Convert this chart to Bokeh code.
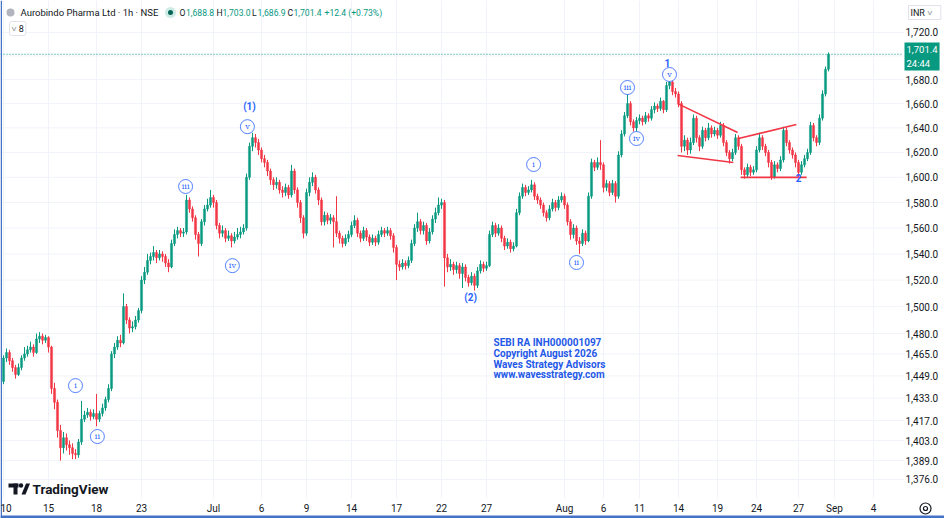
import math
from bokeh.plotting import figure
from bokeh.models import Range1d, FixedTicker, NumeralTickFormatter, Label, ColumnDataSource
from bokeh.core.properties import value
from bokeh.embed import file_html
from bokeh.resources import INLINE

# ---------------- data (1h candles, Aurobindo Pharma, NSE) ----------------
opens = [1445,1462,1466,1460,1455,1450,1455,1462,1465,1468,
         1470,1466,1476,1478,1475,1477,1470,1440,1430,1410,
         1398,1405,1400,1398,1394,1393,1402,1418,1421,1423,
         1420,1422,1418,1422,1426,1432,1440,1465,1470,1475,
         1473,1500,1490,1484,1485,1490,1497,1520,1526,1535,
         1538,1541,1537,1540,1538,1533,1530,1548,1555,1558,
         1556,1557,1582,1575,1568,1555,1548,1565,1575,1578,
         1584,1580,1562,1556,1558,1552,1554,1550,1553,1555,
         1557,1560,1600,1625,1632,1628,1622,1615,1612,1605,
         1598,1594,1596,1590,1588,1592,1586,1605,1590,1580,
         1568,1556,1588,1596,1600,1590,1582,1565,1570,1566,
         1568,1565,1556,1552,1548,1552,1555,1562,1566,1556,
         1552,1558,1553,1549,1552,1549,1555,1558,1556,1558,
         1554,1545,1532,1530,1533,1531,1535,1548,1560,1565,
         1558,1562,1550,1557,1567,1572,1578,1580,1537,1530,
         1532,1528,1531,1525,1530,1522,1518,1523,1516,1527,
         1532,1529,1531,1555,1562,1556,1560,1552,1546,1549,
         1544,1546,1572,1585,1592,1588,1590,1594,1585,1582,
         1578,1572,1568,1575,1580,1576,1582,1585,1578,1565,
         1555,1560,1550,1548,1556,1550,1585,1612,1608,1612,
         1610,1592,1595,1588,1595,1585,1618,1635,1650,1660,
         1645,1640,1646,1648,1645,1650,1648,1655,1658,1656,
         1662,1655,1675,1678,1670,1668,1660,1625,1630,1622,
         1628,1648,1632,1625,1638,1632,1640,1635,1638,1634,
         1642,1628,1620,1615,1620,1632,1625,1606,1602,1608,
         1604,1606,1622,1632,1625,1620,1612,1600,1610,1607,
         1614,1638,1628,1622,1618,1612,1604,1610,1615,1620,
         1642,1632,1628,1648,1668,1688.8]

closes = [1462,1466,1460,1455,1450,1455,1462,1465,1468,1470,
          1466,1476,1478,1475,1477,1470,1440,1430,1410,1398,
          1405,1400,1398,1394,1393,1402,1418,1421,1423,1420,
          1422,1418,1422,1426,1432,1440,1465,1470,1475,1473,
          1500,1490,1484,1485,1490,1497,1520,1526,1535,1538,
          1541,1537,1540,1538,1533,1530,1548,1555,1558,1556,
          1557,1582,1575,1568,1555,1548,1565,1575,1578,1584,
          1580,1562,1556,1558,1552,1554,1550,1553,1555,1557,
          1560,1600,1625,1632,1628,1622,1615,1612,1605,1598,
          1594,1596,1590,1588,1592,1586,1605,1590,1580,1568,
          1556,1588,1596,1600,1590,1582,1565,1570,1566,1568,
          1565,1556,1552,1548,1552,1555,1562,1566,1556,1552,
          1558,1553,1549,1552,1549,1555,1558,1556,1558,1554,
          1545,1532,1530,1533,1531,1535,1548,1560,1565,1558,
          1562,1550,1557,1567,1572,1578,1580,1537,1530,1532,
          1528,1531,1525,1530,1522,1518,1523,1516,1527,1532,
          1529,1531,1555,1562,1556,1560,1552,1546,1549,1544,
          1546,1572,1585,1592,1588,1590,1594,1585,1582,1578,
          1572,1568,1575,1580,1576,1582,1585,1578,1565,1555,
          1560,1550,1548,1556,1550,1585,1612,1608,1612,1610,
          1592,1595,1588,1595,1585,1618,1635,1650,1660,1645,
          1640,1646,1648,1645,1650,1648,1655,1658,1656,1662,
          1655,1675,1678,1670,1668,1660,1625,1630,1622,1628,
          1648,1632,1625,1638,1632,1640,1635,1638,1634,1642,
          1628,1620,1615,1620,1632,1625,1606,1602,1608,1604,
          1606,1622,1632,1625,1620,1612,1600,1610,1607,1614,
          1638,1628,1622,1618,1612,1604,1610,1615,1620,1642,
          1632,1628,1648,1668,1688.8,1701.4]

highs = [1464,1469,1468,1462,1457,1458,1464,1470,1471,1474,
         1472,1480,1481,1480,1479,1478,1471,1444,1432,1414,
         1409,1408,1403,1401,1397,1404,1431,1424,1426,1425,
         1425,1436,1424,1429,1434,1443,1467,1473,1478,1479,
         1510,1502,1492,1489,1493,1499,1523,1530,1540,1541,
         1546,1543,1543,1542,1540,1536,1551,1559,1561,1560,
         1560,1586,1584,1577,1570,1557,1567,1578,1583,1590,
         1586,1582,1564,1562,1560,1558,1556,1557,1560,1561,
         1563,1603,1628,1636,1635,1631,1624,1618,1614,1607,
         1600,1600,1598,1593,1595,1594,1610,1607,1592,1582,
         1570,1591,1600,1604,1602,1592,1584,1573,1572,1571,
         1570,1585,1558,1554,1555,1558,1565,1570,1568,1558,
         1561,1560,1555,1555,1554,1558,1561,1560,1561,1560,
         1556,1547,1535,1536,1535,1538,1551,1563,1572,1567,
         1565,1564,1560,1570,1576,1584,1583,1582,1540,1536,
         1534,1534,1533,1533,1532,1524,1526,1525,1530,1535,
         1534,1534,1558,1565,1564,1563,1562,1554,1552,1551,
         1549,1575,1588,1595,1594,1593,1598,1596,1587,1584,
         1580,1574,1578,1583,1582,1585,1588,1587,1580,1567,
         1563,1562,1553,1559,1558,1588,1615,1614,1616,1630,
         1612,1598,1597,1598,1597,1621,1638,1653,1670,1662,
         1647,1649,1651,1650,1653,1652,1658,1661,1660,1665,
         1663,1678,1683,1680,1673,1670,1662,1634,1632,1632,
         1651,1650,1634,1641,1640,1644,1642,1641,1640,1645,
         1644,1630,1622,1623,1635,1634,1627,1608,1611,1610,
         1609,1625,1636,1634,1627,1622,1614,1613,1612,1617,
         1641,1640,1630,1624,1620,1614,1613,1618,1623,1645,
         1644,1634,1651,1671,1691,1703]

lows = [1443,1459,1457,1452,1447,1449,1453,1460,1463,1466,
        1463,1465,1473,1472,1473,1466,1436,1425,1405,1389,
        1394,1396,1393,1390,1390,1391,1400,1416,1419,1417,
        1418,1413,1416,1420,1424,1430,1438,1462,1468,1470,
        1472,1487,1480,1481,1483,1488,1495,1517,1524,1532,
        1535,1533,1535,1534,1530,1526,1529,1546,1552,1553,
        1553,1555,1572,1565,1551,1538,1546,1562,1573,1576,
        1576,1559,1552,1553,1549,1550,1545,1548,1551,1552,
        1555,1558,1598,1621,1624,1618,1612,1608,1601,1594,
        1590,1591,1587,1584,1585,1583,1584,1587,1576,1564,
        1552,1554,1585,1593,1587,1578,1562,1562,1563,1563,
        1545,1553,1548,1545,1546,1549,1553,1560,1553,1549,
        1550,1550,1546,1547,1546,1547,1553,1553,1554,1551,
        1541,1520,1527,1528,1528,1529,1533,1546,1557,1555,
        1555,1547,1548,1555,1564,1570,1575,1515,1526,1527,
        1524,1525,1521,1514,1519,1515,1516,1512,1514,1525,
        1526,1527,1530,1553,1553,1554,1549,1543,1544,1541,
        1542,1545,1570,1583,1585,1586,1588,1582,1579,1575,
        1569,1565,1566,1573,1573,1574,1580,1575,1562,1551,
        1552,1547,1540,1546,1547,1549,1583,1605,1606,1606,
        1588,1589,1585,1586,1580,1583,1616,1633,1648,1642,
        1637,1636,1643,1642,1643,1645,1646,1652,1653,1654,
        1652,1653,1672,1667,1665,1657,1620,1621,1618,1619,
        1626,1628,1621,1623,1629,1630,1632,1633,1631,1632,
        1625,1617,1611,1613,1618,1622,1602,1599,1600,1601,
        1602,1604,1620,1622,1617,1608,1598,1599,1604,1605,
        1612,1625,1619,1615,1608,1600,1602,1608,1613,1618,
        1629,1625,1626,1646,1666,1686.9]

x_tick_pos = [0, 15, 31, 46, 70, 86, 101, 116, 131, 146, 161, 187, 200, 212, 225, 238, 251, 265, 277, 290]
x_tick_labels = ["10", "15", "18", "23", "Jul", "6", "9", "14", "17", "22", "27",
                 "Aug", "6", "11", "14", "19", "24", "27", "Sep", "4"]
y_ticks = [1376, 1389, 1403, 1417, 1433, 1449, 1465, 1480, 1500, 1520, 1540, 1560,
           1580, 1600, 1620, 1640, 1660, 1680, 1700, 1720]

wave_text = ["i", "ii", "iii", "iv", "v", "i", "ii", "iii", "iv", "v"]
wave_idx = [24, 31.3, 60.7, 76.3, 81.3, 176.7, 191, 208, 211, 222]
wave_price = [1442, 1405.8, 1592.7, 1531, 1641, 1610.3, 1533.4, 1673.4, 1631.3, 1684.3]

degree_text = ["(1)", "(2)", "1", "2"]
degree_idx = [82, 155.7, 221.3, 265]
degree_price = [1657.6, 1506.8, 1694.4, 1599.1]

# pattern lines: (x0, y0, x1, y1)
trend_x0 = [224.7, 224.7, 245.0, 245.7]
trend_y0 = [1660.0, 1617.5, 1631.3, 1600.0]
trend_x1 = [244.7, 243.3, 264.3, 267.7]
trend_y1 = [1636.3, 1611.9, 1642.8, 1600.0]

UP = "#089981"
DOWN = "#f23645"
TXT = "#131722"
BLUE = "#2962ff"
GRID = "#f0f3fa"
FONT = "Roboto"

W, H = 944, 518


def fx(px):
    # reference-pixel x -> bar index
    return (px - 3) / 3.0


def fy(py):
    # reference-pixel y -> price (log scale)
    return 1480 * math.exp((333 - py) / 2003.0)


n = len(closes)
idx = list(range(n))
last_price = closes[-1]
colors = [UP if c >= o else DOWN for o, c in zip(opens, closes)]
src = ColumnDataSource(dict(
    x=idx, h=highs, l=lows,
    top=[max(o, c) for o, c in zip(opens, closes)],
    bot=[min(o, c) for o, c in zip(opens, closes)],
    color=colors))

# the frame covers the whole canvas; price/time scales are drawn inside it
p = figure(width=W, height=H, y_axis_type="log", y_axis_location="right",
           x_range=Range1d(fx(0), fx(W)), y_range=Range1d(fy(H), fy(0)),
           output_backend="svg", toolbar_location=None,
           min_border_left=0, min_border_top=0, min_border_right=0, min_border_bottom=0)
p.background_fill_color = "white"
p.border_fill_color = "white"
p.outline_line_color = None
p.grid.visible = False

# axes (labels pulled inside the canvas)
p.yaxis.ticker = FixedTicker(ticks=y_ticks)
p.yaxis.formatter = NumeralTickFormatter(format="0,0.0")
p.yaxis.major_label_overrides = {1700: ""}
p.xaxis.ticker = FixedTicker(ticks=x_tick_pos)
p.xaxis.major_label_overrides = {t: s for t, s in zip(x_tick_pos, x_tick_labels)}
for ax in (p.xaxis, p.yaxis):
    ax.axis_line_color = None
    ax.major_tick_line_color = None
    ax.minor_tick_line_color = None
    ax.major_tick_out = 0
    ax.major_tick_in = 0
    ax.minor_tick_out = 0
    ax.major_label_text_font = FONT
    ax.major_label_text_font_size = "10px"
    ax.major_label_text_color = TXT
p.yaxis.major_label_standoff = -39
p.xaxis.major_label_standoff = -16

# grid lines restricted to the chart pane
x_lo, x_hi = fx(0), fx(903)
y_lo, y_hi = fy(498), fy(0)
p.segment(x0=[x_lo] * len(y_ticks), x1=[x_hi] * len(y_ticks), y0=y_ticks, y1=y_ticks,
          line_color=GRID, line_width=1, level="underlay")
p.segment(x0=x_tick_pos, x1=x_tick_pos, y0=[y_lo] * len(x_tick_pos), y1=[y_hi] * len(x_tick_pos),
          line_color=GRID, line_width=1, level="underlay")

# current price line
p.line([x_lo, x_hi], [last_price, last_price], line_color=UP, line_dash="1 2", line_width=1)

# candles
p.segment(x0="x", y0="h", x1="x", y1="l", line_color="color", line_width=1, source=src)
p.vbar(x="x", width=0.72, top="top", bottom="bot", fill_color="color",
       line_color="color", line_width=0.4, source=src)

# pattern lines
p.segment(x0=trend_x0, y0=trend_y0, x1=trend_x1, y1=trend_y1,
          line_color=DOWN, line_width=1.6)

# wave labels
p.scatter(wave_idx, wave_price, size=14, marker="circle", fill_color="white",
          line_color=BLUE, line_width=1, line_alpha=0.8)
p.text(wave_idx, wave_price, text=wave_text, text_align="center", text_baseline="middle",
       text_color=BLUE, text_font=value("DejaVu Serif"), text_font_size="8px")
p.text(degree_idx, degree_price, text=degree_text, text_align="center", text_baseline="middle",
       text_color=BLUE, text_font=value(FONT), text_font_size="10px", text_font_style="bold")


def lab(px, py, text, color=TXT, size="9.5px", style="normal", align="left", **kw):
    p.add_layout(Label(x=fx(px), y=fy(py), text=text, text_color=color, text_font=FONT,
                       text_font_size=size, text_font_style=style, text_align=align,
                       text_baseline="middle", **kw))


# header
p.scatter([fx(10)], [fy(12)], size=8, marker="circle", fill_color="#b2b5be", line_color=None)
lab(20, 12, "Aurobindo Pharma Ltd · 1h · NSE")
p.scatter([fx(170)], [fy(12)], size=11, marker="circle", fill_color=UP, fill_alpha=0.2, line_color=None)
p.scatter([fx(170)], [fy(12)], size=5, marker="circle", fill_color="#056656", line_color=None)
parts = [(179, "O", TXT), (185.5, "1,688.8", UP), (216, "H", TXT), (222, "1,703.0", UP),
         (251.5, "L", TXT), (257, "1,686.9", UP), (287, "C", TXT), (293, "1,701.4", UP),
         (324, "+12.4 (+0.73%)", UP)]
for px, t, col in parts:
    lab(px, 12, t, color=col, size="8.6px")
lab(9, 28, "˅ 8", size="9px", border_line_color="#e0e3eb", border_line_width=1,
    background_fill_color="white", padding=2, border_radius=2)

# watermark
for py, t in [(342, "SEBI RA INH000001097"), (353, "Copyright August 2026"),
              (364, "Waves Strategy Advisors"), (374, "www.wavesstrategy.com")]:
    lab(493, py, t, color="#2458e8", size="10px", style="bold")

# TradingView logo
p.quad(left=[fx(8)], right=[fx(18)], top=[fy(483)], bottom=[fy(487)], fill_color=TXT, line_color=None)
p.quad(left=[fx(13)], right=[fx(17)], top=[fy(483)], bottom=[fy(494)], fill_color=TXT, line_color=None)
p.scatter([fx(20.5)], [fy(485)], size=4.5, marker="circle", fill_color=TXT, line_color=None)
p.patch([fx(21), fx(25), fx(29.5), fx(25.5)], [fy(494), fy(494), fy(483), fy(483)],
        fill_color=TXT, line_color=None)
lab(32, 488, "TradingView", size="13.5px", style="bold")

# screenshot frame (left and bottom edges)
p.quad(left=[fx(0)], right=[fx(1.5)], top=[fy(0)], bottom=[fy(H)], fill_color="#4472c4", line_color=None)
p.quad(left=[fx(0)], right=[fx(W)], top=[fy(515)], bottom=[fy(H)], fill_color="#4472c4", line_color=None)

# price scale extras
p.add_layout(Label(x=fx(904), y=fy(56), text="1,701.4\n24:44", text_color="white",
                   text_font=FONT, text_font_size="9.5px", text_align="left",
                   text_baseline="middle", background_fill_color=UP, padding=2))
p.add_layout(Label(x=fx(908), y=fy(12), text="INR    ˅", text_color=TXT, text_font=FONT,
                   text_font_size="9px", text_align="left", text_baseline="middle",
                   border_line_color="#e0e3eb", background_fill_color="white", padding=2))
# settings (gear) icon of the time scale
p.scatter([fx(925)], [fy(508)], size=11, marker="circle", fill_color=None,
          line_color=TXT, line_width=1.2)
p.scatter([fx(925)], [fy(508)], size=4, marker="circle", fill_color=None,
          line_color=TXT, line_width=1.2)

open("out.html", "w").write(file_html(p, INLINE))
